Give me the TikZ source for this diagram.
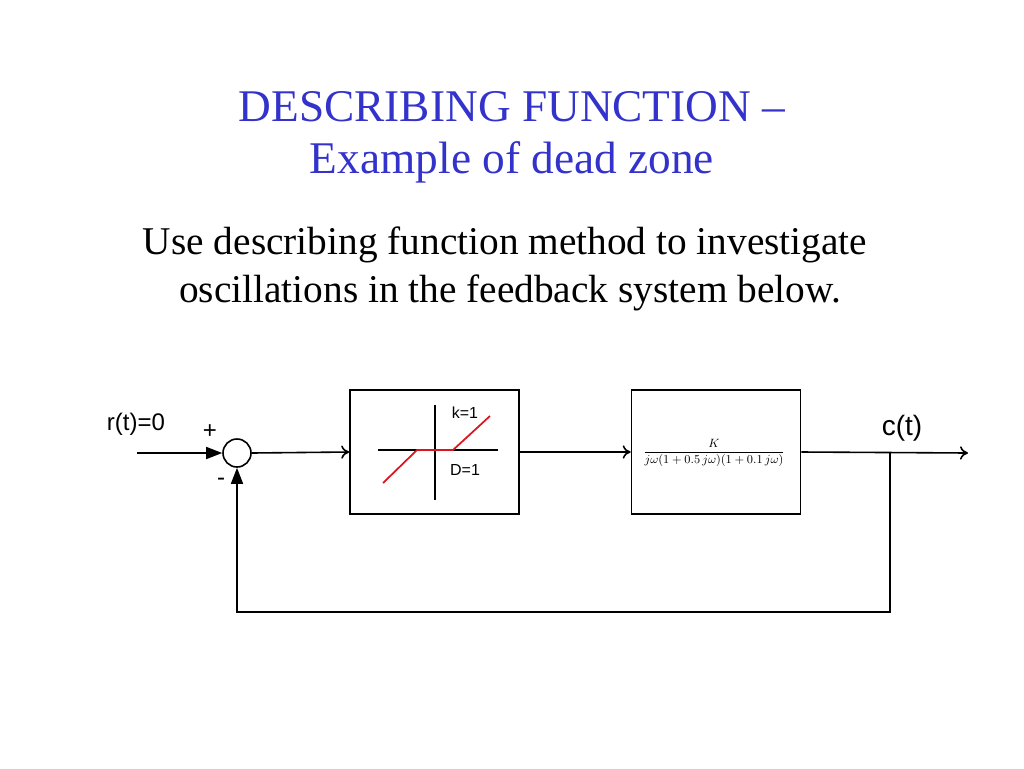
\documentclass[tikz,border=0pt]{standalone}
\usepackage{fontspec}
\setmainfont{Liberation Serif}
\newfontfamily\arialf{Liberation Sans}
\usetikzlibrary{arrows.meta}
\definecolor{titleblue}{RGB}{51,51,204}
\definecolor{dzred}{RGB}{220,20,30}
\begin{document}
\begin{tikzpicture}[x=0.75pt,y=-0.75pt,
  blk/.style={draw,line width=1.2pt,minimum width=126.75pt,minimum height=93pt,inner sep=0},
  sig/.style={line width=1.2pt},
  opn/.style={sig,-{To[length=6pt,width=10pt]}},
  fil/.style={sig,-{Triangle[length=12pt,width=9pt]}},
  lbl/.style={font=\arialf\fontsize{18}{21}\selectfont}]
\useasboundingbox (0,0) rectangle (1024,768);
\node[titleblue,font=\fontsize{34}{40}\selectfont] (t1) at (512,107) {DESCRIBING FUNCTION –};
\node[titleblue,font=\fontsize{34}{40}\selectfont] (t2) at (512,162) {Example of dead zone};
\node[font=\fontsize{29.5}{35}\selectfont] (b1) at (505,245) {Use describing function method to investigate};
\node[font=\fontsize{29.5}{35}\selectfont] (b2) at (510,293) {oscillations in the feedback system below.};
% nodes
\coordinate (in) at (137,453);
\node[draw,circle,line width=1.2pt,minimum size=21pt,inner sep=0] (sum) at (237,453) {};
\node[blk] (dz) at (434.5,452) {};
\node[blk] (g) at (716,452) {};
\coordinate (br) at (890,453);
\coordinate (out) at (968,453);
\coordinate (fb1) at (890,612);
\coordinate (fb2) at (237,612);
% connectors
\draw[fil] (in) -- (sum.west);
\draw[opn] (sum.east) -- (dz.west);
\draw[opn] (dz.east) -- (g.west);
\draw[opn] (g.east) -- (out);
\draw[fil] (br) -- (fb1) -- (fb2) -- (sum.south);
% labels
\node[lbl] (r) at (136,424) {r(t)=0};
\node[lbl] (plus) at (210,432) {+};
\node[lbl] (minus) at (221,482) {-};
\node[font=\arialf\fontsize{21}{24}\selectfont] (c) at (902,428) {c(t)};
% dead zone
\draw[line width=1.2pt] (435,405) -- (435,500);
\draw[line width=1.2pt] (378,450) -- (498,450);
\draw[dzred,line width=1.3pt] (383,483) -- (417,450) -- (453,450) -- (490,416);
\node[font=\arialf\fontsize{12}{14}\selectfont] (k) at (465,413) {k=1};
\node[font=\arialf\fontsize{12}{14}\selectfont] (d) at (465,470) {D=1};
% transfer function
\node[font=\fontsize{9}{11}\selectfont] (tf) at (714,453) {$\displaystyle\frac{K}{j\omega(1+0.5\,j\omega)(1+0.1\,j\omega)}$};
\end{tikzpicture}
\end{document}
